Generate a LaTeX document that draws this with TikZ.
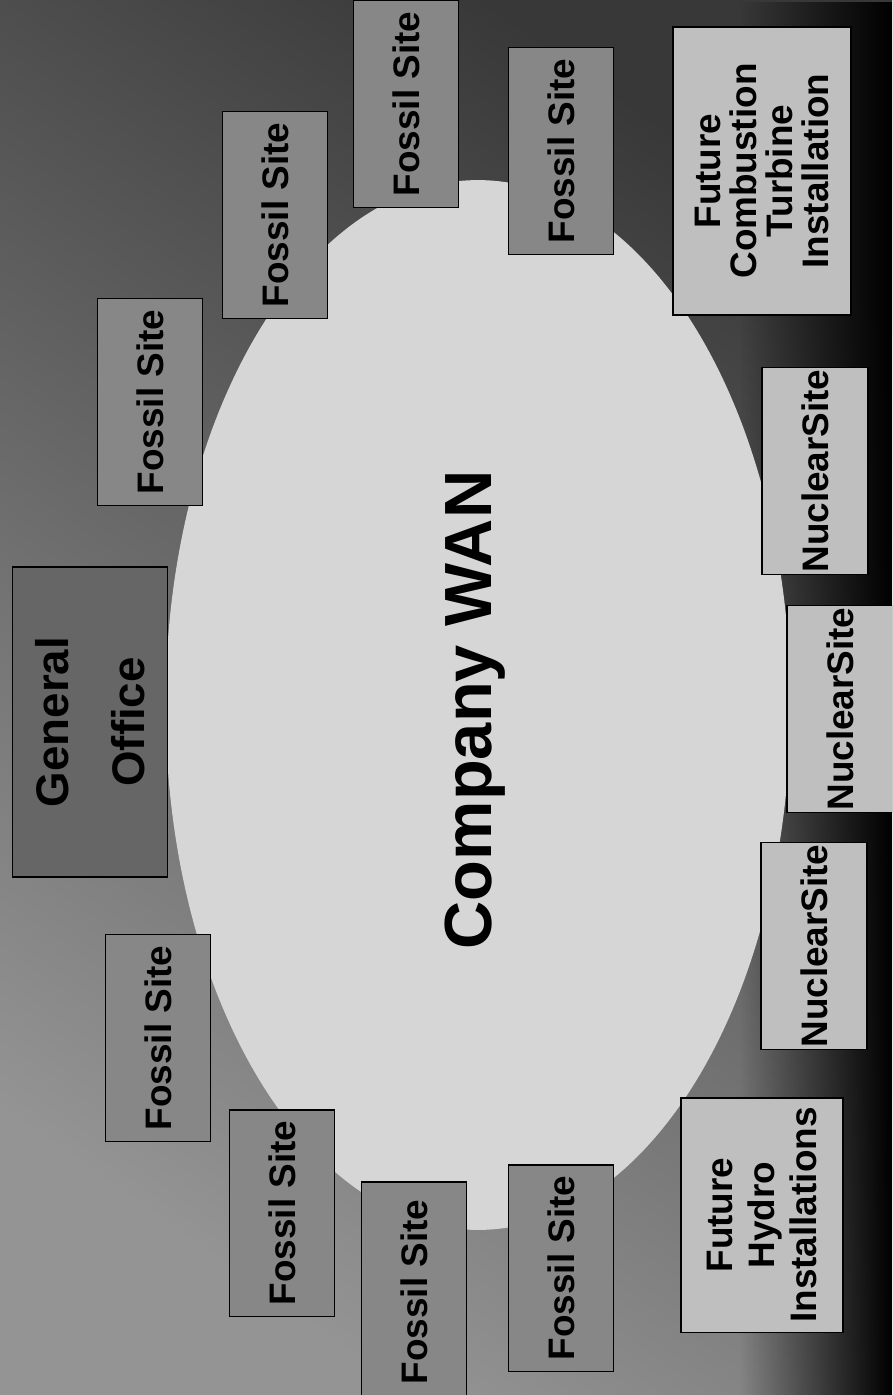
\documentclass[tikz,border=0pt]{standalone}
\usepackage{fontspec}
\setmainfont{Liberation Sans}
\usetikzlibrary{shapes.geometric,fadings}

\begin{document}
\begin{tikzpicture}[x=0.02cm, y=-0.02cm,
	site/.style={draw=black, line width=1.1pt, rotate=90, inner sep=0pt, align=center, font=\bfseries\fontsize{21}{21}\selectfont},
	fossil/.style={site, fill=black!47, minimum height=2.1cm},
	nuclear/.style={site, fill=black!25, minimum width=4.14cm, minimum height=2.12cm},
	future/.style={site, fill=black!25}]
\def\W{892};
\def\H{1395};
\useasboundingbox (0,0) rectangle (\W,\H);
\clip (0,0) rectangle (\W,\H);

% background
\shade[top color=black!78, bottom color=black!42, shading angle=-35] (0,0) rectangle (\W,\H);
\fill[black, path fading=west] (740,0) rectangle (\W,\H);

\node[ellipse, fill=black!16, minimum width=12.5cm, minimum height=21cm, inner sep=0pt] (wan) at (478,705) {};

\foreach \cx/\cy/\len [count=\n] in {150/402/4.14, 275/215/4.14, 406/104/4.14, 561/151/4.14, 561/1268/4.14, 414/1292/4.4, 282/1213/4.14, 158/1038/4.14}
{
	\node[fossil, minimum width=\len cm] (fossil\n) at (\cx,\cy) {Fossil Site};
}

\foreach \cx/\cy [count=\n] in {815/471, 840/709, 814/946}
{
	\node[nuclear] (nuclear\n) at (\cx,\cy) {NuclearSite};
}

\node[future, minimum width=5.76cm, minimum height=3.56cm, font=\bfseries\fontsize{21}{20.5}\selectfont] (combustion) at (762,171) {Future\\Combustion\\Turbine\\Installation};
\node[future, minimum width=4.7cm, minimum height=3.24cm, font=\bfseries\fontsize{21}{24}\selectfont] (hydro) at (762,1215) {Future\\Hydro\\Installations};

\node[site, fill=black!60, minimum width=6.2cm, minimum height=3.1cm, font=\bfseries\fontsize{26}{43}\selectfont] (office) at (90,722) {General\\Office};

\node[rotate=90, inner sep=0pt, font=\bfseries\fontsize{38}{40}\selectfont] (wanlabel) at (475,710) {Company WAN};

\end{tikzpicture}
\end{document}
